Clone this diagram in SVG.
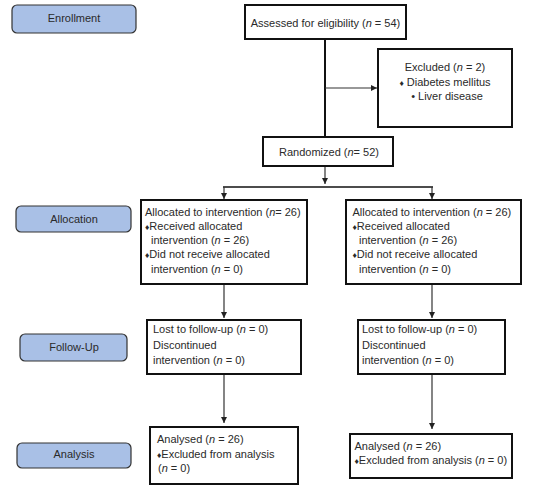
<svg xmlns="http://www.w3.org/2000/svg" width="559" height="491" viewBox="0 0 559 491">
<defs>
<marker id="ah" markerWidth="7" markerHeight="7" refX="6" refY="3" orient="auto" markerUnits="userSpaceOnUse">
<path d="M0,0 L6,3 L0,6 z" fill="#222"/>
</marker>
<style>
text{font-family:"Liberation Sans",Arial,sans-serif;font-size:11px;fill:#2a2a2a}
.c{text-anchor:middle}
.it{font-style:italic}
.box{fill:#fff;stroke:#111;stroke-width:2}
.lab{fill:#a9c0e6;stroke:#333;stroke-width:1.2}
.ln{fill:none;stroke:#333;stroke-width:1.2}
.thick{stroke:#111;stroke-width:2}
.b{font-size:8.5px}
</style>
</defs>
<rect width="559" height="491" fill="#fff"/>

<g id="label-enrollment"><rect class="lab" x="12" y="5" width="124" height="28" rx="5"/><text class="c" x="74" y="21.5">Enrollment</text></g>
<g id="label-allocation"><rect class="lab" x="16" y="206" width="115" height="26" rx="5"/><text class="c" x="74" y="223">Allocation</text></g>
<g id="label-followup"><rect class="lab" x="20" y="334" width="107" height="27" rx="5"/><text class="c" x="74" y="350.5">Follow-Up</text></g>
<g id="label-analysis"><rect class="lab" x="17" y="443" width="114" height="25" rx="5"/><text class="c" x="74" y="458">Analysis</text></g>

<g id="connectors">
<line class="ln thick" x1="325" y1="39" x2="325" y2="137"/>
<line class="ln" x1="325" y1="88" x2="377" y2="88" marker-end="url(#ah)"/>
<line class="ln" x1="325" y1="166" x2="325" y2="184" marker-end="url(#ah)"/>
<line class="ln" x1="223" y1="187" x2="433" y2="187" style="stroke:#111;stroke-width:1.6"/>
<line class="ln" x1="224" y1="187" x2="224" y2="199" marker-end="url(#ah)"/>
<line class="ln" x1="432" y1="187" x2="432" y2="199" marker-end="url(#ah)"/>
<line class="ln" x1="224" y1="284" x2="224" y2="318" marker-end="url(#ah)"/>
<line class="ln" x1="432" y1="284" x2="432" y2="318" marker-end="url(#ah)"/>
<line class="ln" x1="224" y1="374" x2="224" y2="423" marker-end="url(#ah)"/>
<line class="ln" x1="432" y1="374" x2="432" y2="429" marker-end="url(#ah)"/>
</g>

<g id="assessed"><rect class="box" x="245" y="5" width="161" height="34"/><text class="c" x="325.5" y="26.5">Assessed for eligibility (<tspan class="it">n</tspan> = 54)</text></g>
<g id="excluded"><rect class="box" x="378" y="49" width="134" height="78"/>
<text class="c" x="445" y="71">Excluded (<tspan class="it">n</tspan> = 2)</text>
<text class="c" x="445" y="86"><tspan class="b">♦</tspan> Diabetes mellitus</text>
<text class="c" x="447" y="100">• Liver disease</text></g>
<g id="randomized"><rect class="box" x="263" y="137" width="130" height="29"/><text class="c" x="329" y="156">Randomized (<tspan class="it">n</tspan>= 52)</text></g>

<g id="alloc-left"><rect class="box" x="141" y="200" width="166" height="84"/>
<text x="145" y="215.5">Allocated to intervention (<tspan class="it">n</tspan>= 26)</text>
<text x="145" y="229.5"><tspan class="b">♦</tspan>Received allocated</text>
<text x="151" y="244">intervention (<tspan class="it">n</tspan> = 26)</text>
<text x="145" y="258"><tspan class="b">♦</tspan>Did not receive allocated</text>
<text x="151" y="272.5">intervention (<tspan class="it">n</tspan> = 0)</text></g>
<g id="alloc-right"><rect class="box" x="346" y="200" width="175" height="84"/>
<text x="352.5" y="215.5">Allocated to intervention (<tspan class="it">n</tspan> = 26)</text>
<text x="352.5" y="229.5"><tspan class="b">♦</tspan>Received allocated</text>
<text x="359" y="244">intervention (<tspan class="it">n</tspan> = 26)</text>
<text x="352.5" y="258"><tspan class="b">♦</tspan>Did not receive allocated</text>
<text x="359" y="272.5">intervention (<tspan class="it">n</tspan> = 0)</text></g>

<g id="follow-left"><rect class="box" x="147" y="320" width="154" height="54"/>
<text x="153" y="333">Lost to follow-up (<tspan class="it">n</tspan> = 0)</text>
<text x="153" y="348.5">Discontinued</text>
<text x="153" y="363.5">intervention (<tspan class="it">n</tspan> = 0)</text></g>
<g id="follow-right"><rect class="box" x="358" y="320" width="147" height="54"/>
<text x="362" y="333">Lost to follow-up (<tspan class="it">n</tspan> = 0)</text>
<text x="362" y="348.5">Discontinued</text>
<text x="362" y="363.5">intervention (<tspan class="it">n</tspan> = 0)</text></g>

<g id="analysis-left"><rect class="box" x="150" y="427" width="148" height="57"/>
<text x="157" y="443">Analysed (<tspan class="it">n</tspan> = 26)</text>
<text x="157" y="458"><tspan class="b">♦</tspan>Excluded from analysis</text>
<text x="158" y="472">(<tspan class="it">n</tspan> = 0)</text></g>
<g id="analysis-right"><rect class="box" x="350" y="434" width="162" height="44"/>
<text x="354.5" y="450">Analysed (<tspan class="it">n</tspan> = 26)</text>
<text x="354.5" y="464"><tspan class="b">♦</tspan>Excluded from analysis (<tspan class="it">n</tspan> = 0)</text></g>
</svg>
